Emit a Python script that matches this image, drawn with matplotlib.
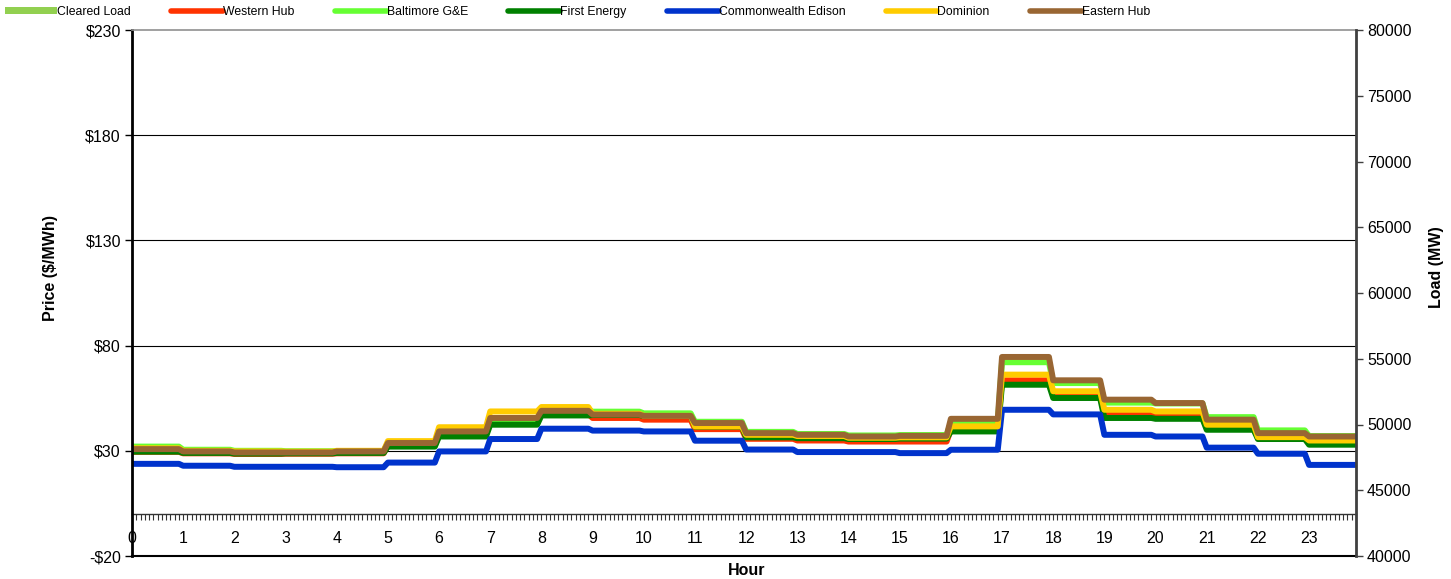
import numpy as np
import matplotlib
matplotlib.use("Agg")
import matplotlib.pyplot as plt
from matplotlib.lines import Line2D
from matplotlib.patches import Patch
from matplotlib.ticker import FuncFormatter

plt.rcParams['font.family'] = ['Liberation Sans', 'DejaVu Sans']

hours = list(range(24))
western_hub = [29.5, 28.8, 28.5, 28.6, 28.8, 32.5, 37.5, 43.7, 47.5, 45.6, 44.8, 40.3,
               35.7, 34.9, 34.4, 34.4, 40.0, 63.5, 56.2, 47.6, 47.1, 41.5, 36.0, 33.8]
baltimore = [32.0, 30.5, 30.0, 29.8, 29.9, 33.5, 39.0, 45.0, 49.5, 48.6, 47.8, 43.8,
             39.0, 38.0, 37.3, 37.5, 43.2, 72.1, 62.2, 52.9, 52.5, 46.0, 39.7, 37.0]
first_energy = [29.6, 29.0, 28.7, 28.8, 29.0, 32.0, 36.8, 42.4, 46.8, 47.0, 46.5, 41.5,
                36.4, 36.0, 35.6, 35.8, 39.2, 61.4, 55.1, 45.6, 45.2, 40.0, 35.6, 32.9]
comed = [23.8, 22.9, 22.4, 22.4, 22.2, 24.4, 29.7, 35.6, 40.5, 39.6, 39.2, 34.8,
         30.6, 29.4, 29.4, 28.9, 30.5, 49.5, 47.3, 37.6, 36.8, 31.5, 28.6, 23.3]
dominion = [31.2, 30.0, 29.7, 29.6, 30.0, 34.6, 41.2, 48.7, 50.8, 47.6, 46.6, 41.6,
            37.6, 37.0, 36.2, 36.4, 41.6, 66.2, 58.3, 49.5, 48.7, 42.4, 36.5, 34.9]
eastern_hub = [30.8, 29.7, 29.2, 29.2, 29.7, 33.7, 39.2, 45.6, 49.0, 47.2, 46.6, 43.2,
               38.4, 37.6, 36.8, 37.1, 45.2, 74.6, 63.5, 54.3, 52.7, 44.8, 38.4, 36.8]

series_names = ["Western Hub", "Baltimore G&E", "First Energy", "Commonwealth Edison",
                "Dominion", "Eastern Hub"]
series_values = [western_hub, baltimore, first_energy, comed, dominion, eastern_hub]
series_colors = ["#FF3300", "#66FF33", "#008000", "#0033CC", "#FFCC00", "#996633"]
cleared_load_color = "#92D050"

price_ticks = [-20, 30, 80, 130, 180, 230]
load_ticks = list(range(40000, 80001, 5000))

steps_per_hour = 12  # 5-minute intervals
x = np.arange(24 * steps_per_hour) / steps_per_hour

FS = 11.5

fig = plt.figure(figsize=(14.51, 5.79), dpi=100)
ax = fig.add_axes([132 / 1451, 1 - 556 / 579, 1224 / 1451, 526 / 579])

for name, vals, col in zip(series_names, series_values, series_colors):
    ax.plot(x, np.repeat(vals, steps_per_hour), color=col, lw=4.3, label=name,
            solid_joinstyle='round', solid_capstyle='butt')

ax.set_xlim(0, x[-1])
ax.set_ylim(-20, 230)
ax.set_yticks(price_ticks)
ax.yaxis.set_major_formatter(FuncFormatter(lambda v, p: f"-${-v:.0f}" if v < 0 else f"${v:.0f}"))
for g in [30, 80, 130, 180]:
    ax.axhline(g, color='black', lw=0.8, zorder=0)
ax.tick_params(axis='y', direction='out', length=5, width=1, labelsize=FS, pad=3)
ax.tick_params(axis='x', bottom=False, labelbottom=False)
ax.spines['left'].set_linewidth(2)
ax.spines['left'].set_color('black')
ax.spines['bottom'].set_linewidth(1.5)
ax.spines['bottom'].set_color('black')
ax.spines['top'].set_color('#909090')
ax.spines['top'].set_linewidth(1.2)
ax.spines['right'].set_visible(False)

# secondary x-axis at price = 0
sec = ax.secondary_xaxis(20 / 250)
sec.set_xticks(hours)
sec.set_xticklabels([str(h) for h in hours])
sec.set_xticks(x, minor=True)
sec.xaxis.set_ticks_position('bottom')
sec.tick_params(axis='x', which='both', direction='out', length=4, width=0.8, color='#333333')
sec.tick_params(axis='x', which='major', labelsize=FS, pad=8)
sec.spines['bottom'].set_color('#333333')
sec.spines['bottom'].set_linewidth(1)

ax.set_ylabel("Price ($/MWh)", fontsize=FS, fontweight='bold')
ax.yaxis.set_label_coords(-0.0605, 0.547)
ax.text(0.502, -0.028, "Hour", transform=ax.transAxes, ha='center', va='center',
        fontsize=FS, fontweight='bold')

ax2 = ax.twinx()
ax2.set_ylim(40000, 80000)
ax2.set_yticks(load_ticks)
ax2.tick_params(axis='y', direction='out', length=5, width=1, labelsize=FS, pad=3,
                color='#404040')
for s in ['left', 'top', 'bottom']:
    ax2.spines[s].set_visible(False)
ax2.spines['right'].set_color('#404040')
ax2.spines['right'].set_linewidth(2)
ax2.set_ylabel("Load (MW)", fontsize=FS, fontweight='bold')
ax2.yaxis.set_label_coords(1.0595, 0.55)

handles = [Patch(facecolor=cleared_load_color, edgecolor='none', label="Cleared Load")]
handles += [Line2D([0], [0], color=c, lw=4, label=n, solid_capstyle='round')
            for n, c in zip(series_names, series_colors)]
fig.legend(handles=handles, loc='upper left', bbox_to_anchor=(0.0, 0.998), ncol=7,
           frameon=False, fontsize=8.8, handlelength=4.25, handleheight=0.5,
           handletextpad=0.0, columnspacing=3.3, borderaxespad=0.2, borderpad=0.2)

fig.savefig("out.png", dpi=100)
